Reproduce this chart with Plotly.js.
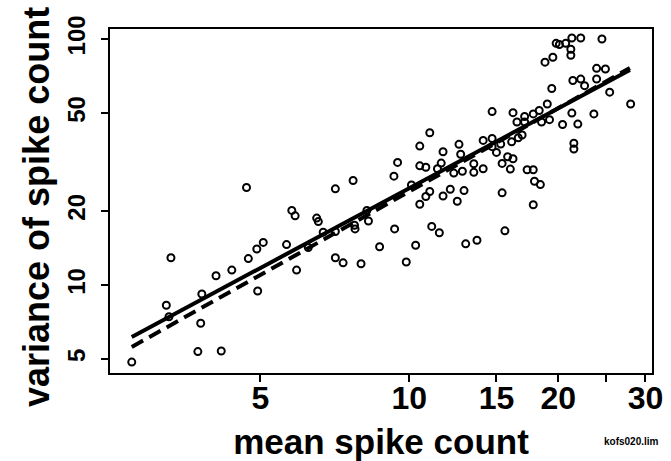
<!DOCTYPE html>
<html><head><meta charset="utf-8">
<script src="https://cdn.plot.ly/plotly-3.0.1.min.js"></script>
<style>html,body{margin:0;padding:0;background:#fff}#chart{width:671px;height:461px}</style>
</head><body><div id="chart"></div>
<script>
const meanCount = [
2.75,3.23,3.27,3.30,3.74,3.79,3.81,4.07,4.17,4.38,
4.69,4.73,4.92,4.94,5.07,5.65,5.79,5.88,5.92,6.25,
6.50,6.55,6.70,7.09,7.09,7.09,7.35,7.70,7.75,7.77,
7.99,8.21,8.27,8.71,9.31,9.34,9.47,9.86,10.1,10.3,
10.5,10.5,10.5,10.8,10.8,11.0,11.0,11.1,11.4,11.6,
11.5,11.7,11.7,12.1,12.3,12.5,12.6,12.7,12.8,12.9,
13.0,13.5,13.5,13.7,14.1,14.1,14.7,14.7,14.7,15.0,
15.4,15.4,15.6,15.8,16.0,16.1,16.2,16.2,16.5,16.6,
16.9,17.1,17.1,17.3,17.8,17.8,17.8,17.9,18.3,18.4,
18.5,18.8,19.0,19.2,19.4,19.5,19.8,20.1,20.4,20.7,
21.2,21.2,21.3,21.3,21.4,21.5,21.5,21.9,22.2,22.2,
22.6,23.6,23.9,23.9,24.5,24.9,25.4,28.0,15.3];
const varCount = [
4.86,8.27,7.43,12.9,5.36,6.99,9.19,10.9,5.39,11.5,
24.9,12.8,14.0,9.45,14.9,14.6,20.1,19.1,11.5,14.2,
18.7,18.1,16.4,24.6,16.5,12.9,12.3,26.6,17.5,16.9,
12.2,20.1,18.2,14.3,27.7,16.9,31.5,12.4,25.5,14.5,
36.7,21.3,30.5,30.1,22.9,41.6,24.0,17.3,29.7,31.3,
16.3,34.8,23.0,24.5,28.5,21.9,37.3,34.0,29.0,24.2,
14.7,31.1,28.7,15.2,29.7,38.7,50.7,39.4,36.5,34.6,
31.2,23.7,16.6,33.2,29.6,38.2,50.2,32.6,46.0,39.7,
40.7,46.0,48.4,29.4,49.6,29.4,21.2,26.4,51.2,25.6,
46.0,80.5,54.4,47.0,62.9,84.3,96.0,95.0,44.9,96.0,
90.9,85.9,50.0,101,67.8,37.7,35.7,45.1,101,68.7,
64.6,49.6,68.8,76.0,100,75.5,60.8,54.4,37.4];
const fitMean = [2.75, 27.9];
const fitSolid = [6.15, 74.8];
const fitDashed = [5.6, 76.2];
const xTickVals = [5, 10, 15, 20, 25, 30];
const xTickText = ['5', '10', '15', '20', '', '30'];
const yTickVals = [5, 10, 20, 50, 100];
const yTickText = ['5', '10', '20', '50', '100'];

const FAM = '"Liberation Sans", Arial, Helvetica, sans-serif';

const traces = [
  {x: meanCount, y: varCount, mode: 'markers', type: 'scatter',
   marker: {symbol: 'circle-open', size: 7, color: '#000', line: {width: 2, color: '#000'}},
   hoverinfo: 'x+y', showlegend: false},
  {x: fitMean, y: fitDashed, mode: 'lines', type: 'scatter',
   line: {color: '#000', width: 4, dash: '13px,7px'}, showlegend: false},
  {x: fitMean, y: fitSolid, mode: 'lines', type: 'scatter',
   line: {color: '#000', width: 4}, showlegend: false}
];

const axisCommon = {
  type: 'log', showline: true, linecolor: '#000', linewidth: 2, mirror: true,
  ticks: 'outside', ticklen: 7, tickwidth: 2, tickcolor: '#000',
  showgrid: false, zeroline: false, automargin: false
};

const px2x = p => (p - 110) / 542, px2y = p => (373 - p) / 344;

const layout = {
  width: 671, height: 461,
  margin: {l: 110, r: 19, t: 29, b: 88},
  paper_bgcolor: '#fff', plot_bgcolor: '#fff',
  font: {family: FAM, color: '#000'},
  xaxis: Object.assign({}, axisCommon, {
    range: [0.3954, 1.4903],
    tickmode: 'array', tickvals: xTickVals, ticktext: xTickText,
    ticklabelstandoff: -11,
    tickfont: {family: FAM, size: 32, weight: 'bold', color: '#000'},
    title: {text: 'mean spike count', font: {family: FAM, size: 35, weight: 'bold', color: '#000'}, standoff: 17}
  }),
  yaxis: Object.assign({}, axisCommon, {
    range: [0.6422, 2.0407],
    tickmode: 'array', tickvals: yTickVals, ticktext: yTickText,
    tickangle: -90, ticklabelstandoff: 6,
    tickfont: {family: FAM, size: 24, weight: 'bold', color: '#000'},
    title: {text: ''}
  }),
  annotations: [
    {text: 'variance of spike count', xref: 'paper', yref: 'paper', x: px2x(36), y: px2y(207),
     xanchor: 'center', yanchor: 'middle', textangle: -90, showarrow: false,
     font: {family: FAM, size: 36, weight: 'bold', color: '#000'}},
    {text: 'kofs020.lim', xref: 'paper', yref: 'paper', x: 0.962, y: -0.198,
     xanchor: 'center', yanchor: 'middle', showarrow: false,
     font: {family: FAM, size: 10, weight: 'bold', color: '#000'}}
  ]
};

Plotly.newPlot('chart', traces, layout, {displayModeBar: false, staticPlot: true});
</script>
</body></html>
